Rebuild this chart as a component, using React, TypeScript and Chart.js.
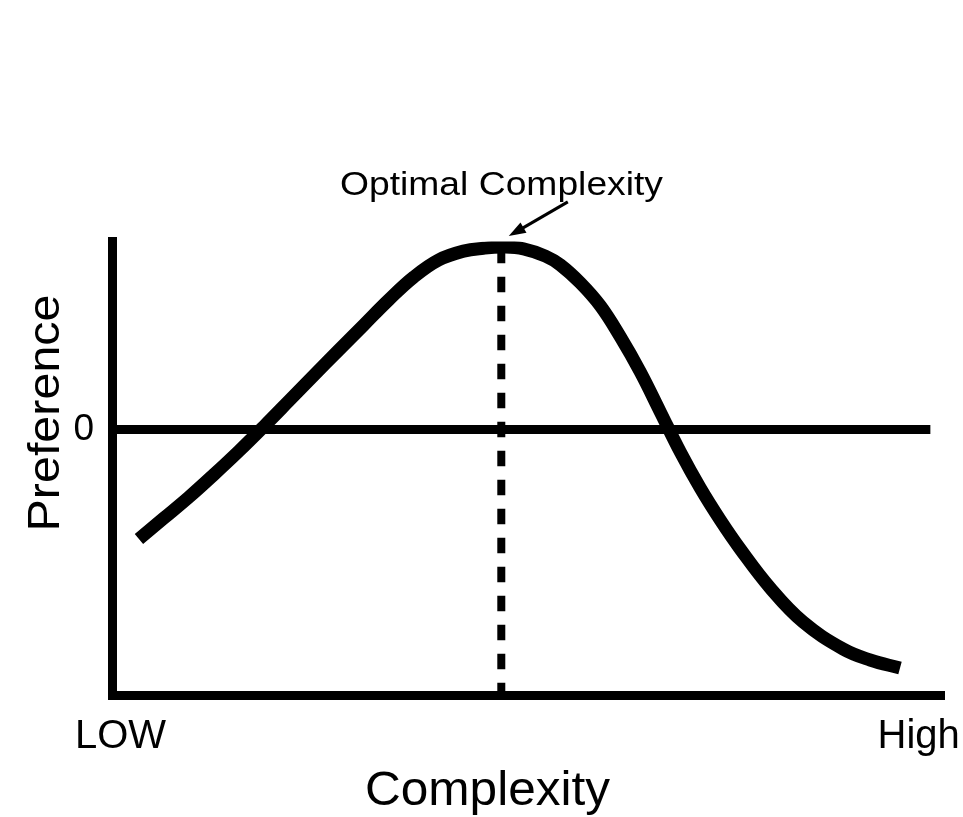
import React, { useEffect, useRef } from "react";
import { Chart, registerables } from "chart.js";

Chart.register(...registerables);

// ---- data ----
const complexityX = [3.12, 6.13, 9.13, 12.13, 15.14, 18.14, 21.14, 24.14, 27.15, 30.15, 33.15, 36.16, 39.16, 42.16, 44.56, 46.97, 49.37, 52.01, 53.81, 56.22, 58.62, 61.02, 63.42, 65.83, 68.23, 70.63, 73.03, 75.44, 79.04, 83.0, 87.81, 91.05, 94.65];
const preferenceY = [-5.69, -4.6, -3.51, -2.34, -1.12, 0.16, 1.48, 2.81, 4.13, 5.43, 6.73, 7.92, 8.81, 9.27, 9.42, 9.48, 9.39, 9.01, 8.55, 7.61, 6.42, 4.81, 2.99, 0.91, -1.17, -3.04, -4.7, -6.21, -8.23, -10.0, -11.4, -11.97, -12.39];
const zeroLineX = [0, 98.3];
const optimumX = 46.7;
const optimumY = [9.45, -13.79];
const xTickValues = [0.9, 96.9];
const xTickLabels = ["LOW", "High"];
const yTickValues = [0];
const yTickLabels = ["0"];
const xAxisTitle = "Complexity";
const yAxisTitle = "Preference";
const annotationText = "Optimal Complexity";
const arrowTail = [54.7, 11.83];
const arrowTip = [47.6, 10.05];
const xRange = [0, 100];
const yRange = [-13.79, 9.77];

const FONT = '"Liberation Sans", Arial, Helvetica, sans-serif';

function drawText(ctx: CanvasRenderingContext2D, text: string, x: number, y: number, size: number, width: number, rot: number) {
  ctx.save();
  ctx.translate(x, y);
  ctx.rotate(rot);
  ctx.font = `${size}px ${FONT}`;
  const w = ctx.measureText(text).width;
  ctx.scale(width / w, 1);
  ctx.textAlign = "center";
  ctx.textBaseline = "alphabetic";
  ctx.fillStyle = "#000";
  ctx.fillText(text, 0, 0);
  ctx.restore();
}

const textPlugin = {
  id: "textsAndArrow",
  afterDraw(chart: any) {
    const ctx: CanvasRenderingContext2D = chart.ctx;
    const xs = chart.scales.x;
    const ys = chart.scales.y;
    drawText(ctx, xAxisTitle, 487.5, 805, 48, 245, 0);
    drawText(ctx, yAxisTitle, 59, 413, 45, 237, -Math.PI / 2);
    drawText(ctx, annotationText, 501.5, 195, 33, 323, 0);

    const tx = xs.getPixelForValue(arrowTip[0]);
    const ty = ys.getPixelForValue(arrowTip[1]);
    const sx = xs.getPixelForValue(arrowTail[0]);
    const sy = ys.getPixelForValue(arrowTail[1]);
    const dx = tx - sx, dy = ty - sy;
    const len = Math.hypot(dx, dy);
    const ux = dx / len, uy = dy / len;
    const headLen = 17, headHalf = 6;
    const bx = tx - ux * headLen, by = ty - uy * headLen;
    ctx.save();
    ctx.strokeStyle = "#000";
    ctx.fillStyle = "#000";
    ctx.lineWidth = 3;
    ctx.beginPath();
    ctx.moveTo(sx, sy);
    ctx.lineTo(bx + ux * 2, by + uy * 2);
    ctx.stroke();
    ctx.beginPath();
    ctx.moveTo(tx, ty);
    ctx.lineTo(bx - uy * headHalf, by + ux * headHalf);
    ctx.lineTo(bx + uy * headHalf, by - ux * headHalf);
    ctx.closePath();
    ctx.fill();
    ctx.restore();
  },
};

export default function App() {
  const canvasRef = useRef<HTMLCanvasElement | null>(null);

  useEffect(() => {
    if (!canvasRef.current) return;
    const curve = complexityX.map((x, i) => ({ x, y: preferenceY[i] }));
    const zero = zeroLineX.map((x) => ({ x, y: 0 }));
    const optimum = optimumY.map((y) => ({ x: optimumX, y }));

    const chart = new Chart(canvasRef.current, {
      type: "line",
      data: {
        datasets: [
          {
            data: zero,
            borderColor: "#000",
            borderWidth: 9,
            pointRadius: 0,
            borderCapStyle: "butt",
          },
          {
            data: curve,
            borderColor: "#000",
            borderWidth: 13,
            pointRadius: 0,
            tension: 0.4,
            borderCapStyle: "butt",
            borderJoinStyle: "round",
          },
          {
            data: optimum,
            borderColor: "#000",
            borderWidth: 8,
            pointRadius: 0,
            borderDash: [15.5, 13.5],
            borderCapStyle: "butt",
          },
        ],
      },
      options: {
        animation: false,
        responsive: true,
        maintainAspectRatio: false,
        layout: { padding: { left: 54.4, top: 241.5, right: 18.5, bottom: 38.8 } },
        plugins: { legend: { display: false }, tooltip: { enabled: false }, title: { display: false } },
        scales: {
          x: {
            type: "linear",
            min: xRange[0],
            max: xRange[1],
            grid: { display: false, drawTicks: false },
            border: { display: true, color: "#000", width: 9 },
            afterBuildTicks: (scale: any) => {
              scale.ticks = xTickValues.map((value) => ({ value }));
            },
            ticks: {
              autoSkip: false,
              maxRotation: 0,
              minRotation: 0,
              padding: 0,
              color: "#000",
              font: { family: FONT, size: 40, lineHeight: 2.08 },
              callback: (value: any) => {
                const i = xTickValues.indexOf(Number(value));
                return i >= 0 ? xTickLabels[i] : "";
              },
            },
          },
          y: {
            type: "linear",
            min: yRange[0],
            max: yRange[1],
            grid: { display: false, drawTicks: false },
            border: { display: true, color: "#000", width: 9 },
            afterBuildTicks: (scale: any) => {
              scale.ticks = yTickValues.map((value) => ({ value }));
            },
            ticks: {
              autoSkip: false,
              padding: 19,
              color: "#000",
              font: { family: FONT, size: 37 },
              callback: (value: any) => {
                const i = yTickValues.indexOf(Number(value));
                return i >= 0 ? yTickLabels[i] : "";
              },
            },
          },
        },
      },
      plugins: [textPlugin],
    } as any);

    return () => chart.destroy();
  }, []);

  return (
    <div style={{ position: "absolute", left: 0, top: 0, width: 963, height: 817, background: "#fff" }}>
      <canvas ref={canvasRef} />
    </div>
  );
}
